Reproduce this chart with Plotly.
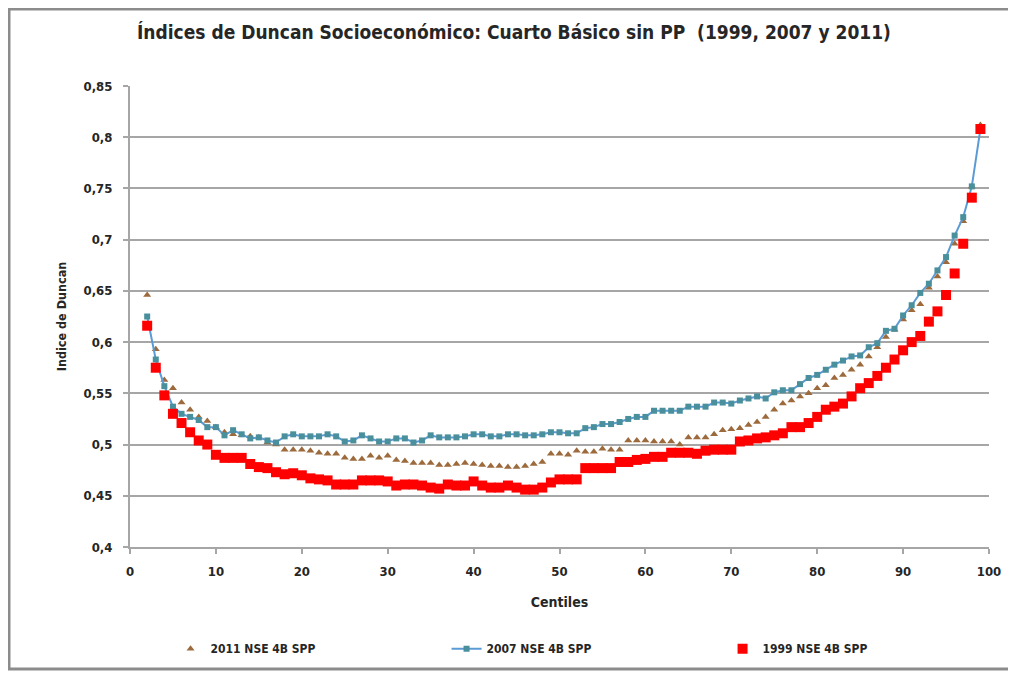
import plotly.graph_objects as go

centiles = list(range(2, 100))

s2011 = [
    0.646, 0.593, 0.563, 0.555, 0.541, 0.534, 0.527, 0.523,              # 2-9
    0.517, 0.512, 0.510, 0.509, 0.508, 0.507, 0.502, 0.500, 0.495, 0.495,  # 10-19
    0.495, 0.494, 0.492, 0.491, 0.491, 0.487, 0.486, 0.486, 0.489, 0.487,  # 20-29
    0.489, 0.485, 0.484, 0.482, 0.482, 0.482, 0.480, 0.480, 0.481, 0.482,  # 30-39
    0.481, 0.480, 0.479, 0.479, 0.478, 0.478, 0.479, 0.481, 0.483, 0.491,  # 40-49
    0.491, 0.490, 0.494, 0.493, 0.493, 0.496, 0.495, 0.495, 0.504, 0.504,  # 50-59
    0.504, 0.503, 0.503, 0.503, 0.500, 0.507, 0.507, 0.507, 0.510, 0.514,  # 60-69
    0.515, 0.516, 0.519, 0.522, 0.527, 0.534, 0.540, 0.543, 0.547, 0.550,  # 70-79
    0.555, 0.558, 0.565, 0.568, 0.573, 0.578, 0.586, 0.595, 0.605, 0.612,  # 80-89
    0.622, 0.631, 0.637, 0.653, 0.664, 0.678, 0.696, 0.718, 0.752, 0.812,  # 90-99
]

s2007 = [
    0.625, 0.583, 0.557, 0.537, 0.530, 0.527, 0.524, 0.517,              # 2-9
    0.517, 0.509, 0.514, 0.510, 0.506, 0.507, 0.504, 0.502, 0.508, 0.510,  # 10-19
    0.508, 0.508, 0.508, 0.510, 0.508, 0.503, 0.504, 0.509, 0.506, 0.503,  # 20-29
    0.503, 0.506, 0.506, 0.502, 0.504, 0.509, 0.507, 0.507, 0.507, 0.508,  # 30-39
    0.510, 0.510, 0.508, 0.508, 0.510, 0.510, 0.509, 0.509, 0.510, 0.512,  # 40-49
    0.512, 0.511, 0.511, 0.516, 0.517, 0.520, 0.520, 0.522, 0.525, 0.527,  # 50-59
    0.527, 0.533, 0.533, 0.533, 0.533, 0.537, 0.537, 0.537, 0.541, 0.541,  # 60-69
    0.540, 0.543, 0.545, 0.547, 0.545, 0.551, 0.553, 0.553, 0.559, 0.565,  # 70-79
    0.568, 0.573, 0.578, 0.582, 0.586, 0.587, 0.595, 0.599, 0.611, 0.613,  # 80-89
    0.626, 0.636, 0.648, 0.657, 0.670, 0.683, 0.704, 0.722, 0.752, 0.808,  # 90-99
]

s1999 = [
    0.616, 0.575, 0.548, 0.530, 0.521, 0.512, 0.504, 0.500,              # 2-9
    0.490, 0.487, 0.487, 0.487, 0.481, 0.478, 0.477, 0.473, 0.471, 0.472,  # 10-19
    0.470, 0.467, 0.466, 0.465, 0.461, 0.461, 0.461, 0.465, 0.465, 0.465,  # 20-29
    0.464, 0.460, 0.461, 0.461, 0.460, 0.458, 0.457, 0.461, 0.460, 0.460,  # 30-39
    0.464, 0.460, 0.458, 0.458, 0.460, 0.458, 0.456, 0.456, 0.458, 0.463,  # 40-49
    0.466, 0.466, 0.466, 0.477, 0.477, 0.477, 0.477, 0.483, 0.483, 0.485,  # 50-59
    0.486, 0.488, 0.488, 0.492, 0.492, 0.492, 0.491, 0.494, 0.495, 0.495,  # 60-69
    0.495, 0.503, 0.504, 0.506, 0.507, 0.509, 0.511, 0.517, 0.517, 0.521,  # 70-79
    0.527, 0.534, 0.537, 0.540, 0.547, 0.555, 0.560, 0.567, 0.575, 0.583,  # 80-89
    0.592, 0.600, 0.606, 0.620, 0.630, 0.646, 0.667, 0.696, 0.741, 0.808,  # 90-99
]

y_ticks = [0.4, 0.45, 0.5, 0.55, 0.6, 0.65, 0.7, 0.75, 0.8, 0.85]
y_ticktext = ["0,4", "0,45", "0,5", "0,55", "0,6", "0,65", "0,7", "0,75", "0,8", "0,85"]
x_ticks = list(range(0, 101, 10))

FONT = "DejaVu Sans Condensed"
TXT = "#262626"

fig = go.Figure()
fig.add_trace(go.Scatter(
    x=centiles, y=s2011, mode="markers", name="2011 NSE 4B SPP",
    marker=dict(symbol="triangle-up", size=7, color="#9c6a3c"),
))
fig.add_trace(go.Scatter(
    x=centiles, y=s2007, mode="lines+markers", name="2007 NSE 4B SPP",
    line=dict(color="#5b9bd5", width=2),
    marker=dict(symbol="square", size=6, color="#4a8f9c"),
))
fig.add_trace(go.Scatter(
    x=centiles, y=s1999, mode="markers", name="1999 NSE 4B SPP",
    marker=dict(symbol="square", size=10, color="#ff0000"),
))

fig.update_layout(
    width=1016, height=673,
    paper_bgcolor="white", plot_bgcolor="white",
    margin=dict(l=122, r=35, t=78, b=134),
    font=dict(family=FONT, color=TXT),
    title=dict(
        text="Índices de Duncan Socioeconómico: Cuarto Básico sin PP  (1999, 2007 y 2011)",
        x=0.498, xanchor="center", xref="container",
        y=0.964, yanchor="middle", yref="container",
        font=dict(family=FONT, size=19, color=TXT, weight="bold"),
    ),
    xaxis=dict(
        range=[0, 100], tickvals=x_ticks, showgrid=False, zeroline=False,
        showline=True, linecolor="#a6a6a6", linewidth=2,
        ticks="outside", ticklen=5, tickcolor="#a6a6a6", tickwidth=2,
        ticklabelstandoff=6,
        tickfont=dict(family=FONT, size=13, color=TXT, weight="bold"),
        title=dict(text="Centiles", font=dict(family=FONT, size=14, color=TXT, weight="bold"), standoff=20),
    ),
    yaxis=dict(
        range=[0.4, 0.85], tickvals=y_ticks, ticktext=y_ticktext,
        showgrid=True, gridcolor="#a6a6a6", gridwidth=2, zeroline=False,
        showline=True, linecolor="#a6a6a6", linewidth=2,
        ticks="outside", ticklen=5, tickcolor="#a6a6a6", tickwidth=2,
        ticklabelstandoff=8,
        tickfont=dict(family=FONT, size=13, color=TXT, weight="bold"),
        title=dict(text="Indice de Duncan", font=dict(family=FONT, size=12.5, color=TXT, weight="bold"), standoff=14),
    ),
    legend=dict(
        orientation="h", xref="container", yref="container",
        x=0.160, xanchor="left", y=0.048, yanchor="middle",
        entrywidth=231, entrywidthmode="pixels",
        font=dict(family=FONT, size=12, color=TXT, weight="bold"),
        bgcolor="rgba(0,0,0,0)",
    ),
    showlegend=True,
)

# Outer chart frame (figure edges)
fig.add_shape(type="rect", xref="paper", yref="paper",
              x0=(1 - 122) / 859, x1=(1005 - 122) / 859,
              y0=(539 - 661) / 461, y1=(539 - 1) / 461,
              line=dict(color="#8c8c8c", width=3), fillcolor="rgba(0,0,0,0)", layer="below")

fig.write_html("out.html")
